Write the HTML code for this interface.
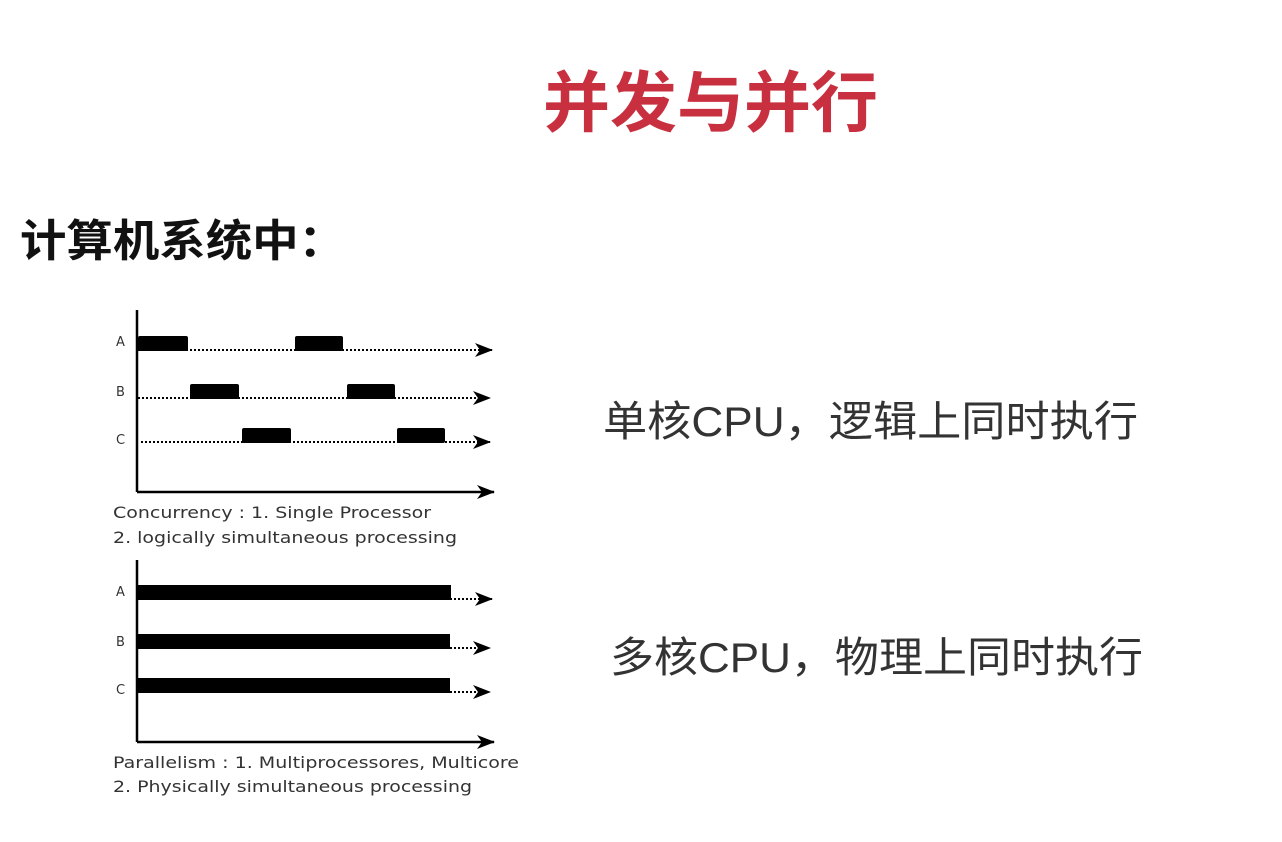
<!DOCTYPE html>
<html><head><meta charset="utf-8"><style>
html,body{margin:0;padding:0;background:#fff;width:1282px;height:842px;overflow:hidden}
svg{display:block}
.cjk{font-family:"Liberation Sans","Noto Sans CJK SC",sans-serif}
.lat{font-family:"DejaVu Sans","Liberation Sans",sans-serif}
</style></head><body>
<svg width="1282" height="842" viewBox="0 0 1282 842" xmlns="http://www.w3.org/2000/svg">
<defs>
<marker id="ar" markerWidth="18" markerHeight="14" refX="17" refY="7" orient="auto" markerUnits="userSpaceOnUse">
<path d="M0,0 L18,7 L0,14 L5,7 Z" fill="#000"/>
</marker>
</defs>
<text class="cjk" x="543" y="126" font-size="66" font-weight="bold" fill="#c8303f" textLength="335" lengthAdjust="spacingAndGlyphs">并发与并行</text>
<text class="cjk" x="20" y="256" font-size="44" font-weight="bold" fill="#111" textLength="325" lengthAdjust="spacingAndGlyphs">计算机系统中：</text>
<text class="cjk" x="603" y="436" font-size="42" fill="#333" textLength="535" lengthAdjust="spacingAndGlyphs">单核CPU，逻辑上同时执行</text>
<text class="cjk" x="610" y="672" font-size="42" fill="#333" textLength="533" lengthAdjust="spacingAndGlyphs">多核CPU，物理上同时执行</text>

<!-- top chart -->
<g stroke="#000" fill="none">
<line x1="137" y1="310" x2="137" y2="492" stroke-width="2.5"/>
<line x1="137" y1="492" x2="494" y2="492" stroke-width="2.5" marker-end="url(#ar)"/>
<line x1="138" y1="350" x2="492" y2="350" stroke-width="2" stroke-dasharray="2,2" marker-end="url(#ar)"/>
<line x1="138" y1="398" x2="490" y2="398" stroke-width="2" stroke-dasharray="2,2" marker-end="url(#ar)"/>
<line x1="141" y1="442" x2="490" y2="442" stroke-width="2" stroke-dasharray="2,2" marker-end="url(#ar)"/>
</g>
<g fill="#000">
<rect x="138" y="336" width="50" height="15" rx="2"/>
<rect x="295" y="336" width="48" height="15" rx="2"/>
<rect x="190" y="384" width="49" height="15" rx="2"/>
<rect x="347" y="384" width="48" height="15" rx="2"/>
<rect x="242" y="428" width="49" height="15" rx="2"/>
<rect x="397" y="428" width="48" height="15" rx="2"/>
</g>
<g class="lat" font-size="13" fill="#333">
<text x="116" y="346">A</text><text x="116" y="396">B</text><text x="116" y="444">C</text>
</g>
<text class="lat" x="113" y="518" font-size="16" fill="#333" textLength="318" lengthAdjust="spacingAndGlyphs">Concurrency : 1. Single Processor</text>
<text class="lat" x="113" y="543" font-size="16" fill="#333" textLength="344" lengthAdjust="spacingAndGlyphs">2. logically simultaneous processing</text>

<!-- bottom chart -->
<g stroke="#000" fill="none">
<line x1="137" y1="560" x2="137" y2="742" stroke-width="2.5"/>
<line x1="137" y1="742" x2="494" y2="742" stroke-width="2.5" marker-end="url(#ar)"/>
<line x1="450" y1="599" x2="492" y2="599" stroke-width="2" stroke-dasharray="2,2" marker-end="url(#ar)"/>
<line x1="450" y1="648" x2="490" y2="648" stroke-width="2" stroke-dasharray="2,2" marker-end="url(#ar)"/>
<line x1="450" y1="692" x2="490" y2="692" stroke-width="2" stroke-dasharray="2,2" marker-end="url(#ar)"/>
</g>
<g fill="#000">
<rect x="138" y="585" width="313" height="15"/>
<rect x="138" y="634" width="312" height="15"/>
<rect x="138" y="678" width="312" height="15"/>
</g>
<g class="lat" font-size="13" fill="#333">
<text x="116" y="596">A</text><text x="116" y="646">B</text><text x="116" y="694">C</text>
</g>
<text class="lat" x="113" y="768" font-size="16" fill="#333" textLength="406" lengthAdjust="spacingAndGlyphs">Parallelism : 1. Multiprocessores, Multicore</text>
<text class="lat" x="113" y="792" font-size="16" fill="#333" textLength="359" lengthAdjust="spacingAndGlyphs">2. Physically simultaneous processing</text>
</svg>
</body></html>
